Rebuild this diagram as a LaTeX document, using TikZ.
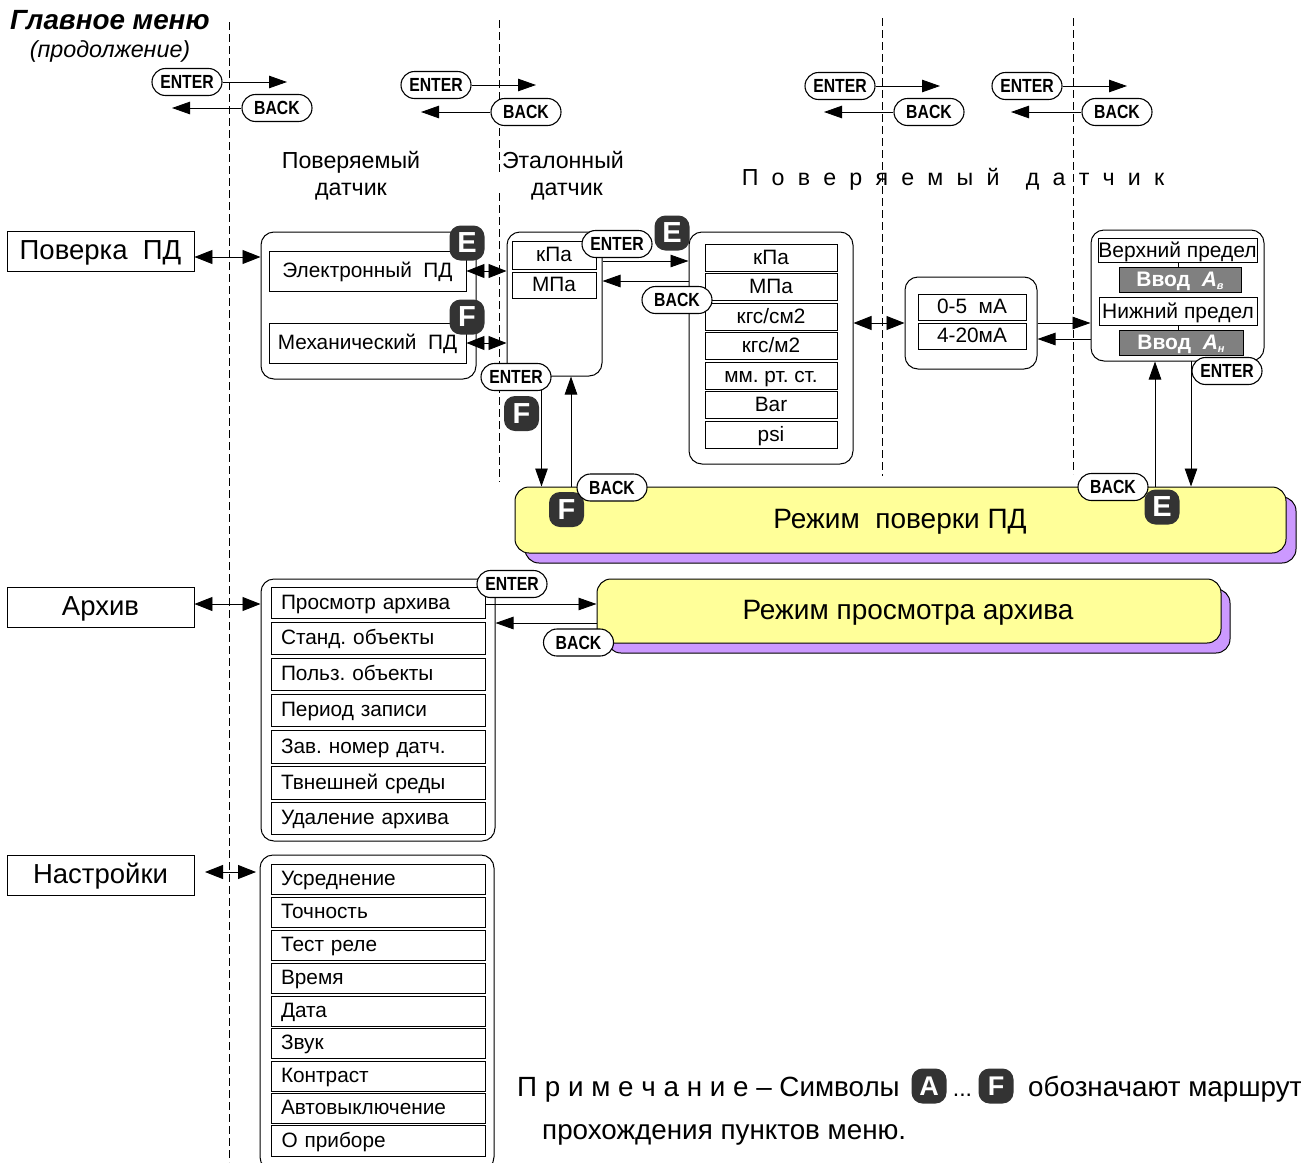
\documentclass[tikz,border=0pt]{standalone}
\usepackage{fontspec}
\setmainfont{Liberation Sans}
\newfontfamily\pillfont[FakeStretch=0.83]{Liberation Sans}
\newfontfamily\widefont[WordSpace=2.05]{Liberation Sans}
\usetikzlibrary{arrows.meta}
\frenchspacing
\definecolor{modeyellow}{HTML}{FFFF99}
\definecolor{modeshadow}{HTML}{CC99FF}
\definecolor{badgegrey}{HTML}{333333}
\definecolor{inputgrey}{HTML}{808080}
\tikzset{
	txt/.style={inner sep=0pt, text height=.72*#1 pt, text depth=0pt, font=\fontsize{#1}{#1}\selectfont},
	guide/.style={dashed, dash pattern=on 8pt off 4pt, line width=0.8pt},
	toarrow/.style={line width=0.9pt, -{Triangle[length=18pt,width=12.5pt]}},
	bothways/.style={line width=0.9pt, {Triangle[length=18pt,width=14pt]}-{Triangle[length=18pt,width=14pt]}},
	rootbox/.style={draw, line width=0.9pt, inner sep=0pt, minimum width=187pt, minimum height=40pt, text height=17pt, text depth=0pt, font=\fontsize{27.5}{27.5}\selectfont},
	panel/.style={draw, line width=1pt, inner sep=0pt, rounded corners=13pt, fill=white},
	listbox/.style={draw, line width=0.9pt, inner sep=0pt, text height=13.5pt, text depth=0pt, font=\fontsize{20.8}{20.8}\selectfont},
	leftbox/.style={listbox, minimum width=214pt, text width=194pt, align=left},
	pill/.style={draw, line width=1.1pt, fill=white, inner sep=0pt, rounded corners=13.5pt, minimum height=27pt, font=\fontsize{19}{19}\selectfont\pillfont\bfseries},
	enterpill/.style={pill, minimum width=70pt},
	backpill/.style={pill, minimum width=70pt},
	badge/.style={fill=badgegrey, text=white, inner sep=0pt, rounded corners=11pt, minimum width=35pt, minimum height=35pt, font=\fontsize{29}{29}\selectfont\bfseries},
	inputbox/.style={draw, fill=inputgrey, text=white, line width=0.8pt, inner sep=0pt, minimum height=25pt, text height=13.5pt, text depth=0pt, font=\fontsize{21}{21}\selectfont\bfseries},
	limitbox/.style={draw, fill=white, line width=0.8pt, inner sep=0pt, text height=15pt, text depth=0pt, font=\fontsize{21}{21}\selectfont},
	modebox/.style={draw, line width=1pt, rounded corners=14pt, inner sep=0pt},
}
\begin{document}
\begin{tikzpicture}[x=1pt,y=-1pt]
	\clip (0,0) rectangle (1301,1162);

	\coordinate (g1a) at (229.5,22);
	\coordinate (g1b) at (229.5,1162);
	\coordinate (g2a) at (499,20);
	\coordinate (g2b) at (499,172);
	\coordinate (g2c) at (499,193);
	\coordinate (g2d) at (499,482);
	\coordinate (g3a) at (882.5,18);
	\coordinate (g3b) at (882.5,476);
	\coordinate (g4a) at (1073,18);
	\coordinate (g4b) at (1073,474);
	\draw[guide] (g1a) -- (g1b);
	\draw[guide] (g2a) -- (g2b);
	\draw[guide] (g2c) -- (g2d);
	\draw[guide] (g3a) -- (g3b);
	\draw[guide] (g4a) -- (g4b);

	\node[txt=27.8, anchor=west] (title) at (10,19) {\bfseries\itshape Главное меню};
	\node[txt=23.3] (subtitle) at (110,49) {\itshape (продолжение)};

	\node[enterpill] (enterA) at (187,82) {ENTER};
	\node[backpill] (backA) at (277,108) {BACK};
	\node[enterpill] (enterB) at (436,85) {ENTER};
	\node[backpill] (backB) at (526,112) {BACK};
	\node[enterpill] (enterC) at (840,86) {ENTER};
	\node[backpill] (backC) at (929,112) {BACK};
	\node[enterpill] (enterD) at (1027,86) {ENTER};
	\node[backpill] (backD) at (1117,112) {BACK};
	\coordinate (tipA1) at (287,82);
	\coordinate (tipA2) at (172,108);
	\coordinate (tipB1) at (536,85);
	\coordinate (tipB2) at (421,112);
	\coordinate (tipC1) at (940,86);
	\coordinate (tipC2) at (824,112);
	\coordinate (tipD1) at (1127,86);
	\coordinate (tipD2) at (1011,112);
	\draw[toarrow] (enterA) -- (tipA1);
	\draw[toarrow] (backA) -- (tipA2);
	\draw[toarrow] (enterB) -- (tipB1);
	\draw[toarrow] (backB) -- (tipB2);
	\draw[toarrow] (enterC) -- (tipC1);
	\draw[toarrow] (backC) -- (tipC2);
	\draw[toarrow] (enterD) -- (tipD1);
	\draw[toarrow] (backD) -- (tipD2);

	\node[txt=23.2] (headPD1) at (351,160) {Поверяемый};
	\node[txt=23.2] (headPD2) at (351,187) {датчик};
	\node[txt=23.2] (headEt1) at (563,160) {Эталонный};
	\node[txt=23.2] (headEt2) at (567,187) {датчик};
	\node[txt=23.2] (headWide) at (953,177) {\widefont П о в е р я е м ы й \ д а т ч и к};

	\node[rootbox] (poverka) at (100.5,251) {Поверка\ \ ПД};
	\node[rootbox] (archive) at (100.5,607) {Архив};
	\node[rootbox] (settings) at (100.5,875) {Настройки};

	\node[panel, minimum width=215pt, minimum height=147pt] (typePanel) at (368.5,305.5) {};
	\node[listbox, minimum width=197pt, minimum height=40pt] (electronic) at (367.5,271) {Электронный\ \ ПД};
	\node[listbox, minimum width=197pt, minimum height=40pt] (mechanical) at (367.5,343) {Механический\ \ ПД};
	\node[panel, minimum width=95pt, minimum height=144pt] (refPanel) at (554.5,304) {};
	\node[listbox, minimum width=84pt, minimum height=28pt] (refKpa) at (554,255) {кПа};
	\node[listbox, minimum width=84pt, minimum height=26pt] (refMpa) at (554,285) {МПа};
	\node[panel, minimum width=164pt, minimum height=232pt] (unitPanel) at (771,348) {};
	\node[listbox, minimum width=132pt, minimum height=27pt] (unitKpa) at (771,257.5) {кПа};
	\node[listbox, minimum width=132pt, minimum height=27pt] (unitMpa) at (771,287) {МПа};
	\node[listbox, minimum width=132pt, minimum height=27pt] (unitKgsm) at (771,316.5) {кгс/см2};
	\node[listbox, minimum width=132pt, minimum height=27pt] (unitKgm) at (771,346) {кгс/м2};
	\node[listbox, minimum width=132pt, minimum height=27pt] (unitMm) at (771,376) {мм. рт. ст.};
	\node[listbox, minimum width=132pt, minimum height=27pt] (unitBar) at (771,405) {Bar};
	\node[listbox, minimum width=132pt, minimum height=27pt] (unitPsi) at (771,435) {psi};
	\node[panel, minimum width=132pt, minimum height=92pt] (currentPanel) at (971,323) {};
	\node[listbox, minimum width=108pt, minimum height=26pt] (currentA) at (972,307) {0-5\ \ мА};
	\node[listbox, minimum width=108pt, minimum height=26pt] (currentB) at (972,336) {4-20мА};
	\node[panel, minimum width=173pt, minimum height=131pt] (limitPanel) at (1177.5,295.5) {};
	\node[limitbox, minimum width=159pt, minimum height=24pt] (upperLimit) at (1177.5,250) {Верхний предел};
	\node[inputbox, minimum width=122pt] (inputUpper) at (1180,279.5) {Ввод\ \ \textit{A}\raisebox{-3pt}{\fontsize{11}{11}\selectfont\itshape в}};
	\node[limitbox, minimum width=158pt, minimum height=28pt] (lowerLimit) at (1178,311) {Нижний предел};
	\node[inputbox, minimum width=124pt] (inputLower) at (1181,342.5) {Ввод\ \ \textit{A}\raisebox{-3pt}{\fontsize{11}{11}\selectfont\itshape н}};
	\draw[line width=0.8pt] (upperLimit.south -| 1178,0) -- (inputUpper.north -| 1178,0);
	\draw[line width=0.8pt] (lowerLimit.south -| 1178,0) -- (inputLower.north -| 1178,0);

	\node[modebox, fill=modeshadow, minimum width=771pt, minimum height=66pt] (checkShadow) at (910.5,530) {};
	\node[modebox, fill=modeyellow, minimum width=771pt, minimum height=66pt] (checkMode) at (900.5,520) {};
	\node[txt=28] (checkText) at (900,518) {Режим\ \ поверки ПД};
	\node[modebox, fill=modeshadow, minimum width=623pt, minimum height=64pt] (viewShadow) at (918.5,621) {};
	\node[modebox, fill=modeyellow, minimum width=624pt, minimum height=64pt] (viewMode) at (909,611) {};
	\node[txt=28] (viewText) at (908,609.5) {Режим просмотра архива};

	\node[panel, minimum width=234pt, minimum height=262pt] (archivePanel) at (378,710) {};
	\node[leftbox, minimum height=31pt] (arView) at (378,602.5) {Просмотр архива};
	\node[leftbox, minimum height=32pt] (arStd) at (378,638) {Станд. объекты};
	\node[leftbox, minimum height=32pt] (arUser) at (378,674) {Польз. объекты};
	\node[leftbox, minimum height=32pt] (arPeriod) at (378,710) {Период записи};
	\node[leftbox, minimum height=33pt] (arSerial) at (378,746.5) {Зав. номер датч.};
	\node[leftbox, minimum height=33pt] (arTemp) at (378,782.5) {Твнешней среды};
	\node[leftbox, minimum height=32pt] (arDelete) at (378,818) {Удаление архива};

	\node[panel, minimum width=234pt, minimum height=315pt] (settingsPanel) at (377,1012.5) {};
	\node[leftbox, minimum height=30pt] (setAvg) at (378,879) {Усреднение};
	\node[leftbox, minimum height=30pt] (setPrec) at (378,912) {Точность};
	\node[leftbox, minimum height=30pt] (setRelay) at (378,945) {Тест реле};
	\node[leftbox, minimum height=30pt] (setTime) at (378,978) {Время};
	\node[leftbox, minimum height=30pt] (setDate) at (378,1011) {Дата};
	\node[leftbox, minimum height=30pt] (setSound) at (378,1043) {Звук};
	\node[leftbox, minimum height=30pt] (setContrast) at (378,1076) {Контраст};
	\node[leftbox, minimum height=30pt] (setOff) at (378,1108) {Автовыключение};
	\node[leftbox, minimum height=31pt] (setAbout) at (378.5,1140.5) {О приборе};

	\coordinate (settingsL) at (205,872);
	\coordinate (settingsR) at (256,872);
	\coordinate (fallMech) at (541.5,390);
	\coordinate (riseMech) at (571,487);
	\coordinate (fallLimit) at (1191,361);
	\coordinate (riseLimit) at (1155,487);
	\draw[bothways] (poverka.east |- 0,257) -- (typePanel.west |- 0,257);
	\draw[bothways] (archive.east |- 0,604) -- (archivePanel.west |- 0,604);
	\draw[bothways] (settingsL) -- (settingsR);
	\draw[bothways] (electronic.east) -- (refPanel.west |- electronic.east);
	\draw[bothways] (mechanical.east) -- (refPanel.west |- mechanical.east);
	\draw[bothways] (unitPanel.east |- 0,323) -- (currentPanel.west |- 0,323);
	\draw[toarrow] (refPanel.east |- 0,261) -- (unitPanel.west |- 0,261);
	\draw[toarrow] (unitPanel.west |- 0,281) -- (refPanel.east |- 0,281);
	\draw[toarrow] (currentPanel.east |- 0,323) -- (limitPanel.west |- 0,323);
	\draw[toarrow] (limitPanel.west |- 0,339) -- (currentPanel.east |- 0,339);
	\draw[toarrow] (fallMech) -- (fallMech |- checkMode.north);
	\draw[toarrow] (riseMech) -- (riseMech |- refPanel.south);
	\draw[toarrow] (fallLimit) -- (fallLimit |- checkMode.north);
	\draw[toarrow] (riseLimit) -- (riseLimit |- limitPanel.south);
	\draw[toarrow] (arView.east |- 0,604) -- (viewMode.west |- 0,604);
	\draw[toarrow] (viewMode.west |- 0,623) -- (archivePanel.east |- 0,623);

	\node[badge] (badgeE1) at (467,243) {E};
	\node[badge] (badgeF1) at (467,317) {F};
	\node[badge] (badgeE2) at (672,233) {E};
	\node[badge] (badgeF2) at (521.5,413.5) {F};
	\node[badge] (badgeF3) at (566.5,509.5) {F};
	\node[badge] (badgeE3) at (1162,507) {E};
	\node[enterpill] (enterRef) at (617,244) {ENTER};
	\node[backpill] (backRef) at (677,300) {BACK};
	\node[enterpill] (enterMech) at (516,377) {ENTER};
	\node[backpill] (backMode) at (612,487.5) {BACK};
	\node[backpill] (backModeR) at (1113,487) {BACK};
	\node[enterpill] (enterLimit) at (1227,371) {ENTER};
	\node[enterpill] (enterView) at (512,584) {ENTER};
	\node[backpill] (backView) at (578.5,642.5) {BACK};

	\node[txt=27.8, anchor=west] (noteA) at (517,1086) {П р и м е ч а н и е – Символы};
	\node[badge, font=\fontsize{27}{27}\selectfont\bfseries] (noteBadgeA) at (929,1086) {A};
	\node[txt=23] (noteDots) at (962.5,1088) {...};
	\node[badge, font=\fontsize{27}{27}\selectfont\bfseries] (noteBadgeF) at (996,1086) {F};
	\node[txt=27.8, anchor=west] (noteB) at (1028,1086) {обозначают маршрут};
	\node[txt=27.8, anchor=west] (noteC) at (542,1129) {прохождения пунктов меню.};
\end{tikzpicture}
\end{document}
